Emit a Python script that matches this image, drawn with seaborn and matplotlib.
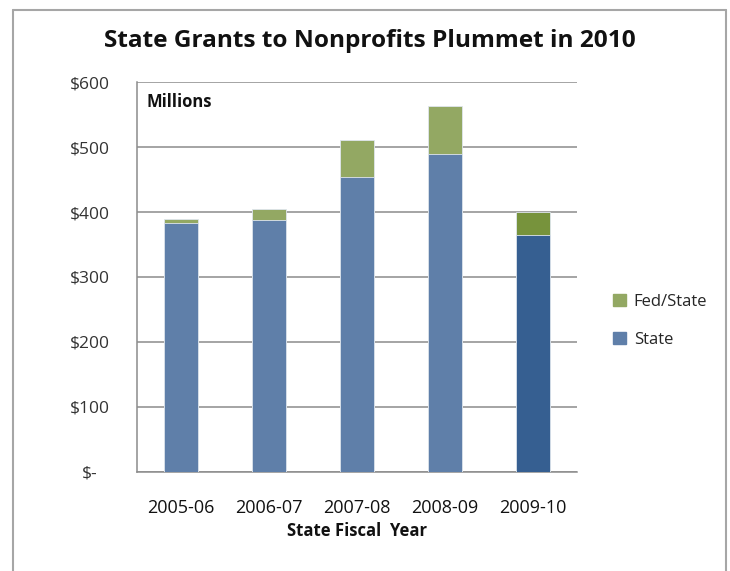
import matplotlib.pyplot as plt
import pandas as pd
import seaborn as sns
from matplotlib.lines import Line2D
from matplotlib.patches import Patch

years = ['2005-06', '2006-07', '2007-08', '2008-09', '2009-10']
state = [383, 388, 454, 490, 364]
fed_state = [7, 16, 57, 73, 36]

y_ticks = [0, 100, 200, 300, 400, 500, 600]
y_labels = ['$-', '$100', '$200', '$300', '$400', '$500', '$600']

state_colors = ['#5F7FA9', '#5F7FA9', '#5F7FA9', '#5F7FA9', '#365F91']
fed_colors = ['#93A863', '#93A863', '#93A863', '#93A863', '#77933C']

sns.set_theme(style='white')
plt.rcParams['font.family'] = ['Open Sans', 'DejaVu Sans']


def main():
    df = pd.DataFrame({'year': years, 'state': state, 'fed': fed_state})
    df['total'] = df['state'] + df['fed']

    fig = plt.figure(figsize=(7.3, 5.71), dpi=100)
    ax = fig.add_axes([0.1873, 0.1739, 0.6027, 0.682])

    # stacked bars: total in green, state drawn over it in blue
    sns.barplot(data=df, x='year', y='total', hue='year', palette=fed_colors,
                legend=False, width=0.39, saturation=1, ax=ax,
                edgecolor='#dfe6ee', linewidth=0.6, zorder=3)
    sns.barplot(data=df, x='year', y='state', hue='year', palette=state_colors,
                legend=False, width=0.39, saturation=1, ax=ax,
                edgecolor='#dfe6ee', linewidth=0.6, zorder=3)

    ax.set_xlim(-0.5, 4.5)
    ax.set_ylim(0, 600)
    ax.set_yticks(y_ticks)
    ax.set_yticklabels(y_labels, ha='center')
    ax.yaxis.grid(True, color='#8c8c8c', linewidth=1.1)
    ax.set_axisbelow(True)
    ax.tick_params(axis='y', length=0, pad=34, labelsize=12.5, labelcolor='#333333')
    ax.tick_params(axis='x', length=0, pad=19.5, labelsize=13, labelcolor='#111111')

    for side in ['top', 'right']:
        ax.spines[side].set_visible(False)
    for side in ['left', 'bottom']:
        ax.spines[side].set_color('#8c8c8c')
        ax.spines[side].set_linewidth(1.1)

    ax.set_ylabel('')
    ax.set_xlabel('State Fiscal  Year', fontsize=12, fontweight='bold',
                  color='#111111', labelpad=3.5)

    ax.text(0.023, 0.95, 'Millions', transform=ax.transAxes, fontsize=12,
            fontweight='bold', color='#111111', va='center')

    fig.text(370 / 730, 1 - 41 / 571, 'State Grants to Nonprofits Plummet in 2010',
             ha='center', va='center', fontsize=17.6, fontweight='bold',
             color='#111111')

    handles = [Patch(color=fed_colors[0], label='Fed/State'),
               Patch(color=state_colors[0], label='State')]
    fig.legend(handles=handles, loc='center left',
               bbox_to_anchor=(598 / 730, 1 - 321 / 571), frameon=False,
               fontsize=12, handlelength=0.75, handleheight=0.75,
               handletextpad=0.5, labelspacing=1.3)

    # outer chart frame (bottom edge is cut off in the original)
    frame = dict(color='#a6a6a6', linewidth=1.5, transform=fig.transFigure)
    fig.add_artist(Line2D([13 / 730, 13 / 730], [0, 1 - 9.5 / 571], **frame))
    fig.add_artist(Line2D([725.5 / 730, 725.5 / 730], [0, 1 - 9.5 / 571], **frame))
    fig.add_artist(Line2D([13 / 730, 725.5 / 730], [1 - 9.5 / 571, 1 - 9.5 / 571], **frame))

    fig.savefig('out.png', dpi=100, facecolor='white')


if __name__ == '__main__':
    main()
